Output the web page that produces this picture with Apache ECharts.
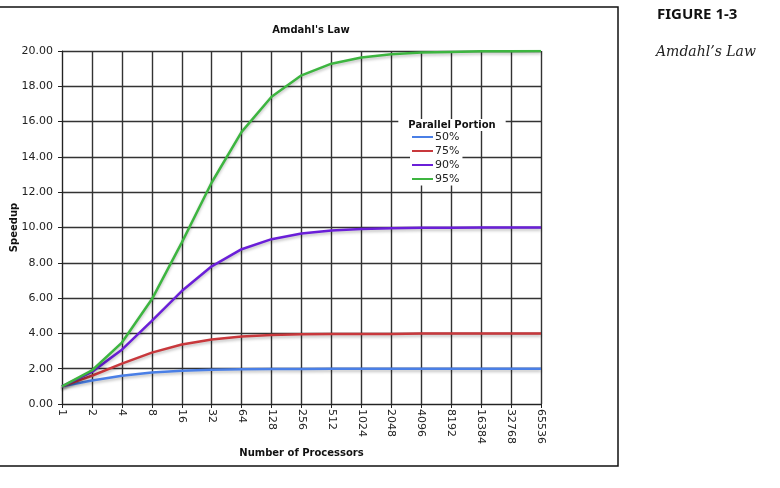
<!DOCTYPE html>
<html>
<head>
<meta charset="utf-8">
<script src="https://cdn.jsdelivr.net/npm/echarts@6/dist/echarts.min.js"></script>
<style>
html, body { margin: 0; padding: 0; background: #fff; }
#chart { width: 780px; height: 488px; }
</style>
</head>
<body>
<div id="chart"></div>
<script>
// x轴：处理器数量
var processors = ['1','2','4','8','16','32','64','128','256','512','1024','2048','4096','8192','16384','32768','65536'];
// 各并行比例的加速比
var legendNames = ['50%', '75%', '90%', '95%'];
var speedup50 = [1.00, 1.33, 1.60, 1.78, 1.88, 1.94, 1.97, 1.98, 1.99, 2.00, 2.00, 2.00, 2.00, 2.00, 2.00, 2.00, 2.00];
var speedup75 = [1.00, 1.60, 2.29, 2.91, 3.37, 3.66, 3.82, 3.91, 3.95, 3.97, 3.97, 3.97, 4.00, 4.00, 4.00, 4.00, 4.00];
var speedup90 = [1.00, 1.82, 3.08, 4.71, 6.40, 7.80, 8.77, 9.34, 9.66, 9.83, 9.91, 9.96, 9.98, 9.99, 10.00, 10.00, 10.00];
var speedup95 = [1.00, 1.90, 3.48, 5.93, 9.14, 12.55, 15.42, 17.41, 18.62, 19.28, 19.63, 19.82, 19.91, 19.95, 19.98, 19.99, 20.00];
var lineColors = ['#4a7fe6', '#c8383c', '#6a1fd8', '#3db540'];

var myChart = echarts.init(document.getElementById('chart'));

var seriesData = [];
var allData = [speedup50, speedup75, speedup90, speedup95];
for (var i in allData) {
    seriesData.push({
        name: legendNames[i],
        type: 'line',
        data: allData[i],
        symbol: 'none',
        smooth: false,
        lineStyle: {
            width: 2.5,
            color: lineColors[i],
            shadowColor: 'rgba(0,0,0,0.25)',
            shadowBlur: 3,
            shadowOffsetY: 2
        },
        itemStyle: { color: lineColors[i] }
    });
}

var option = {
    animation: false,
    title: [{
        text: "Amdahl's Law",
        left: 306,
        top: 20,
        textAlign: 'center',
        textStyle: { fontFamily: 'DejaVu Sans', fontSize: 10, fontWeight: 'bold', color: '#111' }
    }, {
        text: 'Parallel Portion',
        left: 442,
        top: 119,
        textAlign: 'center',
        backgroundColor: '#fff',
        padding: [1, 10, 1, 10],
        textStyle: { fontFamily: 'DejaVu Sans', fontSize: 10, fontWeight: 'bold', color: '#111' }
    }],
    legend: {
        data: legendNames,
        orient: 'vertical',
        left: 410,
        top: 130.5,
        backgroundColor: '#fff',
        padding: [1, 3, 1, 2],
        itemGap: 3,
        itemWidth: 21,
        itemHeight: 2,
        icon: 'rect',
        textStyle: { fontFamily: 'DejaVu Sans', fontSize: 11, color: '#222', padding: [0, 0, 0, -3] }
    },
    grid: { left: 62, right: 239, top: 51, bottom: 84, outerBoundsMode: 'none' },
    xAxis: {
        type: 'category',
        data: processors,
        boundaryGap: false,
        name: 'Number of Processors',
        nameLocation: 'middle',
        nameGap: 44,
        nameMoveOverlap: false,
        nameTextStyle: { fontFamily: 'DejaVu Sans', fontSize: 10, fontWeight: 'bold', color: '#111' },
        axisLine: { lineStyle: { color: '#222', width: 1 } },
        axisTick: { show: true, length: 4, lineStyle: { color: '#222' } },
        axisLabel: { rotate: -90, interval: 0, margin: 5, fontFamily: 'DejaVu Sans', fontSize: 11, color: '#222' },
        splitLine: { show: true, lineStyle: { color: '#333', width: 1.4 } }
    },
    yAxis: {
        type: 'value',
        min: 0,
        max: 20,
        interval: 2,
        name: 'Speedup',
        nameLocation: 'middle',
        nameGap: 43,
        nameRotate: 90,
        nameMoveOverlap: false,
        nameTextStyle: { fontFamily: 'DejaVu Sans', fontSize: 10, fontWeight: 'bold', color: '#111' },
        axisLine: { show: true, lineStyle: { color: '#222', width: 1 } },
        axisTick: { show: true, length: 4, lineStyle: { color: '#222' } },
        axisLabel: {
            margin: 9,
            fontFamily: 'DejaVu Sans', fontSize: 11, color: '#222',
            formatter: function (v) { return v.toFixed(2); }
        },
        splitLine: { show: true, lineStyle: { color: '#333', width: 1.4 } }
    },
    graphic: [{
        type: 'rect',
        shape: { x: -2, y: 7, width: 620, height: 459 },
        style: { fill: 'none', stroke: '#111', lineWidth: 1.5 },
        silent: true
    }, {
        type: 'text',
        left: 657,
        top: 7,
        style: { text: 'FIGURE 1-3', font: 'bold 15px "Noto Sans"', fill: '#111' }
    }, {
        type: 'text',
        left: 656,
        top: 45,
        style: { text: 'Amdahl\u2019s Law', font: 'italic 14px "DejaVu Serif"', fill: '#222' }
    }],
    series: seriesData
};

myChart.setOption(option);
</script>
</body>
</html>
